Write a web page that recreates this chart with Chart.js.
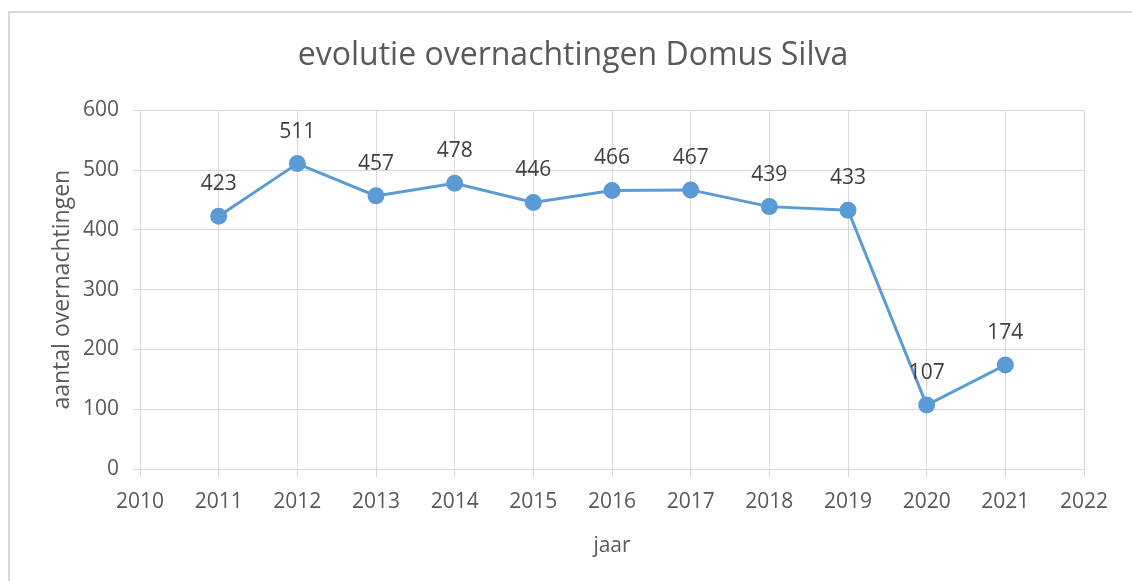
<!DOCTYPE html>
<html>
<head>
<meta charset="utf-8">
<script src="https://cdn.jsdelivr.net/npm/chart.js@4"></script>
<style>
  html, body { margin: 0; padding: 0; background: #fff; overflow: hidden; }
  #frame { position: absolute; left: 8px; top: 11px; width: 2000px; height: 2000px;
           border-left: 2px solid #d9d9d9; border-top: 2px solid #d9d9d9; }
  #wrap { position: absolute; left: 0; top: 0; width: 1132px; height: 581px; }
</style>
</head>
<body>
<div id="frame"></div>
<div id="wrap"><canvas id="chart" width="1132" height="581"></canvas></div>
<script>
// evolutie overnachtingen Domus Silva (2011-2021)
const years = [2011, 2012, 2013, 2014, 2015, 2016, 2017, 2018, 2019, 2020, 2021];
const nights = [423, 511, 457, 478, 446, 466, 467, 439, 433, 107, 174];
const xRange = [2010, 2022];
const yRange = [0, 600];

const FONT = "'Open Sans', 'Noto Sans', sans-serif";
const TEXT = "#595959";
const GRID = "#d9d9d9";
const BLUE = "#5b9bd5";

// small stand-in for the datalabels plugin: value above each point
const pointLabels = {
  id: "pointLabels",
  afterDatasetsDraw(chart) {
    const { ctx } = chart;
    const meta = chart.getDatasetMeta(0);
    ctx.save();
    ctx.font = `21px ${FONT}`;
    ctx.fillStyle = "#404040";
    ctx.textAlign = "center";
    ctx.textBaseline = "middle";
    meta.data.forEach((pt, i) => {
      ctx.fillText(String(nights[i]), pt.x, pt.y - 32);
    });
    ctx.restore();
  },
};

new Chart(document.getElementById("chart"), {
  type: "line",
  data: {
    datasets: [{
      data: years.map((y, i) => ({ x: y, y: nights[i] })),
      borderColor: BLUE,
      backgroundColor: BLUE,
      borderWidth: 3,
      pointRadius: 7,
      pointHoverRadius: 7,
      tension: 0,
    }],
  },
  options: {
    responsive: false,
    animation: false,
    layout: { padding: { left: 14, right: 0, top: 0, bottom: 0 } },
    plugins: {
      legend: { display: false },
      tooltip: { enabled: false },
      title: {
        display: true,
        text: "evolutie overnachtingen Domus Silva",
        color: TEXT,
        font: { family: FONT, size: 32, weight: "normal" },
        padding: { top: 37, bottom: 35 },
      },
    },
    scales: {
      x: {
        type: "linear",
        min: xRange[0],
        max: xRange[1],
        grid: { color: GRID, lineWidth: 1, tickLength: 8, tickColor: GRID },
        border: { color: GRID, width: 1 },
        ticks: {
          stepSize: 1,
          color: TEXT,
          padding: 12,
          font: { family: FONT, size: 21 },
          callback: (v) => String(v),
        },
        title: {
          display: true,
          text: "jaar",
          color: TEXT,
          font: { family: FONT, size: 21 },
          padding: { top: 0, bottom: 22 },
        },
        afterFit: (s) => { s.height = 112; },
      },
      y: {
        min: yRange[0],
        max: yRange[1],
        grid: { color: GRID, lineWidth: 1, tickLength: 7, tickColor: GRID },
        border: { color: GRID, width: 1 },
        ticks: {
          stepSize: 100,
          color: TEXT,
          padding: 14,
          font: { family: FONT, size: 21 },
        },
        title: {
          display: true,
          text: "aantal overnachtingen",
          color: TEXT,
          font: { family: FONT, size: 23 },
          padding: { top: 35, bottom: 0 },
        },
        afterFit: (s) => { s.width = 126; },
      },
      // empty right-hand margin so the title centres on the whole frame
      yRight: {
        position: "right",
        min: yRange[0],
        max: yRange[1],
        grid: { display: false },
        border: { display: false },
        ticks: { display: false },
        afterFit: (s) => { s.width = 48; },
      },
    },
  },
  plugins: [pointLabels],
});
</script>
</body>
</html>
